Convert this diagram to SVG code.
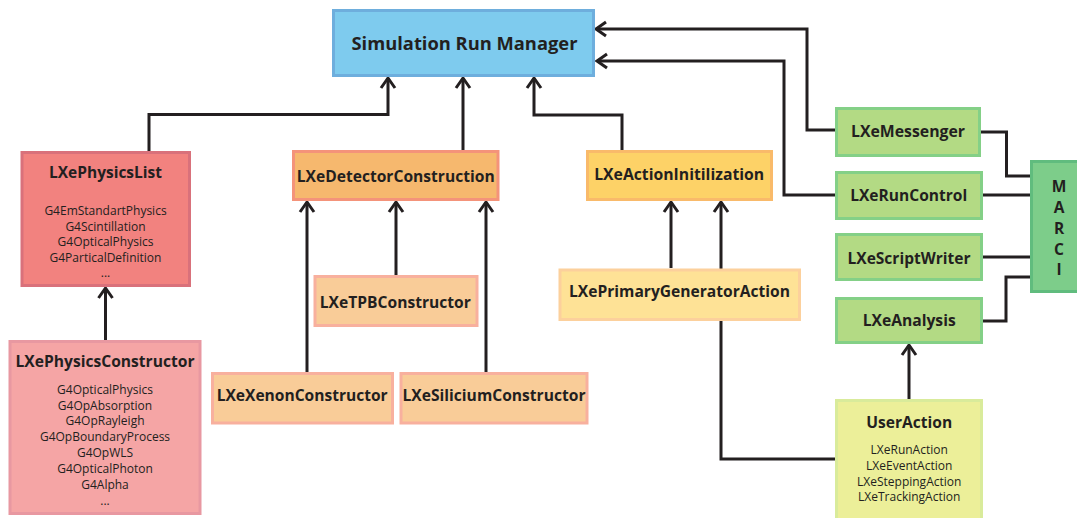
<svg xmlns="http://www.w3.org/2000/svg" width="1077" height="518" viewBox="0 0 1077 518">
  <style>
    .box { stroke-width: 3; }
    .title { font-family: "Open Sans", "Liberation Sans", sans-serif; font-weight: 700; font-size: 15.5px; fill: #231f20; text-anchor: middle; }
    .item { font-family: "Open Sans", "Liberation Sans", sans-serif; font-size: 12px; fill: #231f20; text-anchor: middle; }
    .link { fill: none; stroke: #231f20; stroke-width: 3; }
    .arrow { marker-end: url(#head); }
  </style>
  <defs>
    <marker id="head" markerUnits="userSpaceOnUse" viewBox="-12 -10 14 20" markerWidth="14" markerHeight="20" refX="0" refY="0" orient="auto" overflow="visible">
      <path d="M-10,-7 L0,0 L-10,7" fill="none" stroke="#231f20" stroke-width="3"/>
    </marker>
  </defs>

  <rect width="1077" height="518" fill="#ffffff"/>

  <!-- connectors -->
  <g id="connectors">
    <path class="link arrow" d="M149,151 V114.5 H388 V78"/>
    <path class="link arrow" d="M463,150 V78"/>
    <path class="link arrow" d="M622,150 V115 H534 V78"/>
    <path class="link arrow" d="M835,130 H807 V29 H596"/>
    <path class="link arrow" d="M835,195 H784 V61 H597"/>
    <path class="link arrow" d="M105.5,340 V288"/>
    <path class="link arrow" d="M307,372 V202"/>
    <path class="link arrow" d="M396,275 V202"/>
    <path class="link arrow" d="M486,372 V202"/>
    <path class="link arrow" d="M671,268 V202"/>
    <path class="link arrow" d="M835,459 H721 V202"/>
    <path class="link arrow" d="M909,399 V345"/>
    <path class="link" d="M981,132 H1006.5 V176 H1031"/>
    <path class="link" d="M983,195 H1031"/>
    <path class="link" d="M983,257 H1031"/>
    <path class="link" d="M983,321 H1006 V277 H1031"/>
  </g>

  <g id="simulation-run-manager">
    <rect class="box" x="333.5" y="10.5" width="260" height="65" fill="#7ecbee" stroke="#6eaedd"/>
    <text class="title" x="464.5" y="49.5" style="font-size:17px" textLength="226" lengthAdjust="spacingAndGlyphs">Simulation Run Manager</text>
  </g>

  <g id="physics-list">
    <rect class="box" x="22" y="152.5" width="167.5" height="133" fill="#f2827f" stroke="#d9717b"/>
    <text class="title" x="105.5" y="178" textLength="113" lengthAdjust="spacingAndGlyphs">LXePhysicsList</text>
    <text class="item" x="105.5" y="215">G4EmStandartPhysics</text>
    <text class="item" x="105.5" y="230.5">G4Scintillation</text>
    <text class="item" x="105.5" y="246">G4OpticalPhysics</text>
    <text class="item" x="105.5" y="262">G4ParticalDefinition</text>
    <text class="item" x="105.5" y="277">...</text>
  </g>

  <g id="physics-constructor">
    <rect class="box" x="10" y="341.5" width="190" height="172" fill="#f5a5a5" stroke="#e898a1"/>
    <text class="title" x="105" y="367" textLength="179" lengthAdjust="spacingAndGlyphs">LXePhysicsConstructor</text>
    <text class="item" x="105" y="394">G4OpticalPhysics</text>
    <text class="item" x="105" y="409.5">G4OpAbsorption</text>
    <text class="item" x="105" y="425">G4OpRayleigh</text>
    <text class="item" x="105" y="441">G4OpBoundaryProcess</text>
    <text class="item" x="105" y="457">G4OpWLS</text>
    <text class="item" x="105" y="472.5">G4OpticalPhoton</text>
    <text class="item" x="105" y="488.5">G4Alpha</text>
    <text class="item" x="105" y="504.5">...</text>
  </g>

  <g id="detector-construction">
    <rect class="box" x="293.5" y="151.5" width="204.5" height="48" fill="#f6b86e" stroke="#f4937a"/>
    <text class="title" x="395.7" y="181.5" textLength="198" lengthAdjust="spacingAndGlyphs">LXeDetectorConstruction</text>
  </g>

  <g id="tpb-constructor">
    <rect class="box" x="315" y="276.5" width="162" height="49" fill="#f9cc98" stroke="#f8b09e"/>
    <text class="title" x="395.3" y="307.5" textLength="151" lengthAdjust="spacingAndGlyphs">LXeTPBConstructor</text>
  </g>

  <g id="xenon-constructor">
    <rect class="box" x="212.5" y="373.5" width="180" height="49.5" fill="#f9cc98" stroke="#f8b09e"/>
    <text class="title" x="302.2" y="401" textLength="171" lengthAdjust="spacingAndGlyphs">LXeXenonConstructor</text>
  </g>

  <g id="silicium-constructor">
    <rect class="box" x="401" y="373.5" width="186" height="49.5" fill="#f9cc98" stroke="#f8b09e"/>
    <text class="title" x="494" y="401" textLength="183" lengthAdjust="spacingAndGlyphs">LXeSiliciumConstructor</text>
  </g>

  <g id="action-initialization">
    <rect class="box" x="587.5" y="151.5" width="184" height="48" fill="#fdd267" stroke="#f9ba6a"/>
    <text class="title" x="679.2" y="180" textLength="170" lengthAdjust="spacingAndGlyphs">LXeActionInitilization</text>
  </g>

  <g id="primary-generator-action">
    <rect class="box" x="560" y="270" width="239.5" height="49.5" fill="#fee296" stroke="#fcd09c"/>
    <text class="title" x="679.5" y="297" textLength="221" lengthAdjust="spacingAndGlyphs">LXePrimaryGeneratorAction</text>
  </g>

  <g id="messenger">
    <rect class="box" x="836.5" y="108.5" width="143" height="47" fill="#b3da84" stroke="#84d087"/>
    <text class="title" x="908" y="136.5" textLength="114" lengthAdjust="spacingAndGlyphs">LXeMessenger</text>
  </g>

  <g id="run-control">
    <rect class="box" x="836.5" y="172.5" width="145" height="46" fill="#b3da84" stroke="#84d087"/>
    <text class="title" x="908.7" y="201" textLength="117" lengthAdjust="spacingAndGlyphs">LXeRunControl</text>
  </g>

  <g id="script-writer">
    <rect class="box" x="836.5" y="234.5" width="145" height="45" fill="#b3da84" stroke="#84d087"/>
    <text class="title" x="909" y="264" textLength="123" lengthAdjust="spacingAndGlyphs">LXeScriptWriter</text>
  </g>

  <g id="analysis">
    <rect class="box" x="836.5" y="298.5" width="145" height="44" fill="#b3da84" stroke="#84d087"/>
    <text class="title" x="909.2" y="326" textLength="93" lengthAdjust="spacingAndGlyphs">LXeAnalysis</text>
  </g>

  <g id="user-action">
    <rect class="box" x="836.5" y="400.5" width="145" height="125" fill="#ecef99" stroke="#d9eb9b"/>
    <text class="title" x="909.2" y="427.5" textLength="86" lengthAdjust="spacingAndGlyphs">UserAction</text>
    <text class="item" x="909.2" y="454">LXeRunAction</text>
    <text class="item" x="909.2" y="470">LXeEventAction</text>
    <text class="item" x="909.2" y="485.5">LXeSteppingAction</text>
    <text class="item" x="909.2" y="501">LXeTrackingAction</text>
  </g>

  <g id="marci">
    <rect class="box" x="1031.5" y="161.5" width="50" height="130" fill="#7dcd8a" stroke="#60bc7e"/>
    <text class="title" x="1059" y="192">M</text>
    <text class="title" x="1059" y="213">A</text>
    <text class="title" x="1059" y="234">R</text>
    <text class="title" x="1059" y="254.5">C</text>
    <text class="title" x="1059" y="275">I</text>
  </g>
</svg>
